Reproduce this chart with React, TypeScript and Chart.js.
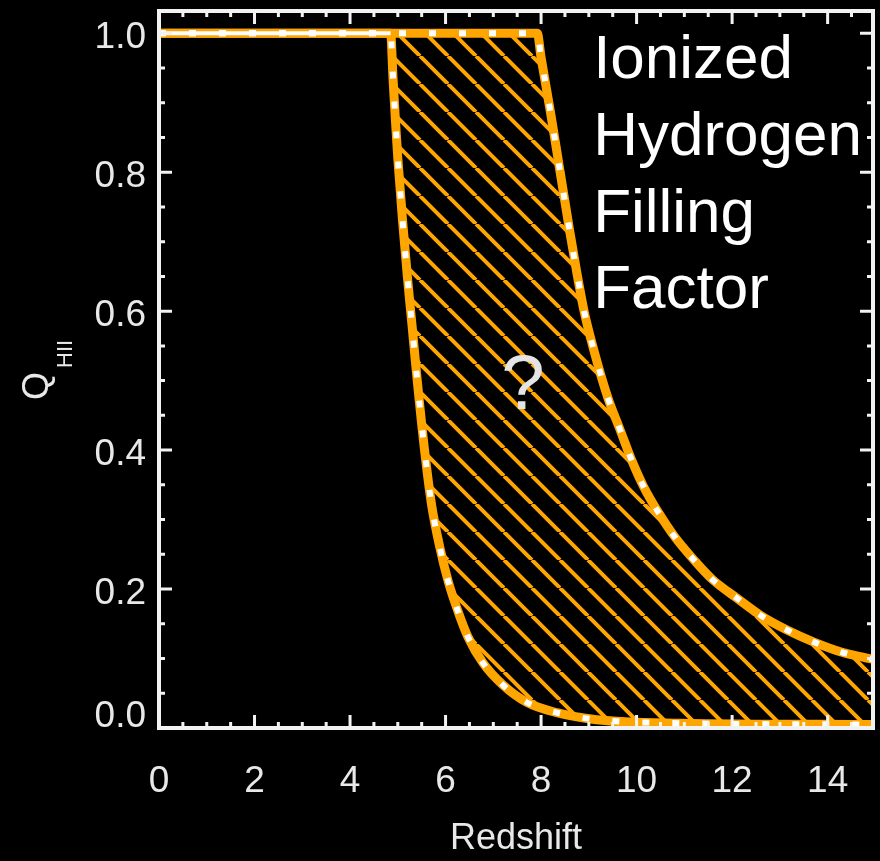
import React, { useEffect, useRef } from 'react';
import { Chart, registerables } from 'chart.js';

Chart.register(...registerables);

// ---- data ----
const redshiftUpper = [0, 7.92, 8.0, 8.2, 8.4, 8.6, 8.75, 8.9, 9.1, 9.4, 9.65, 9.9, 10.15, 10.45, 10.8, 11.2, 11.6, 12.1, 12.6, 13.15, 13.7, 14.3, 14.8, 15];
const fillingUpper = [1, 1, 0.965, 0.885, 0.8, 0.715, 0.655, 0.6, 0.545, 0.475, 0.43, 0.385, 0.347, 0.311, 0.275, 0.242, 0.213, 0.187, 0.162, 0.141, 0.124, 0.109, 0.101, 0.098];

const redshiftLower = [0, 4.85, 4.9, 4.95, 5.0, 5.1, 5.2, 5.3, 5.4, 5.56, 5.71, 5.88, 6.06, 6.25, 6.47, 6.78, 7.2, 7.7, 8.33, 9.16, 10.9, 15];
const fillingLower = [1, 1, 0.935, 0.875, 0.82, 0.73, 0.65, 0.578, 0.505, 0.4, 0.32, 0.26, 0.21, 0.17, 0.131, 0.094, 0.062, 0.037, 0.022, 0.012, 0.007, 0.005];

const plateauRedshift = [0, 4.85];
const plateauFilling = [1, 1];

const xMin = 0;
const xMax = 14.95;
const xStep = 2;
const xMinorStep = 0.5;
const yMin = 0;
const yMax = 1.032;
const yStep = 0.2;
const yMinorStep = 0.05;

const xTitle = 'Redshift';
const yTitleMain = 'Q';
const yTitleSub = 'HII';
const noteLines = ['Ionized', 'Hydrogen', 'Filling', 'Factor'];
const noteX = 9.09;
const noteY = [0.935, 0.825, 0.714, 0.605];
const questionText = '?';
const questionX = 7.62;
const questionY = 0.49;

const ORANGE = '#FFA500';
const FONT = "'Liberation Sans', Arial, Helvetica, sans-serif";

const toPoints = (xs: number[], ys: number[]) => xs.map((x, i) => ({ x, y: ys[i] }));

function makeHatch(): CanvasPattern | string {
  const s = 28;
  const c = document.createElement('canvas');
  c.width = s;
  c.height = s;
  const g = c.getContext('2d');
  if (!g) return ORANGE;
  g.strokeStyle = ORANGE;
  g.lineWidth = 4;
  g.beginPath();
  g.moveTo(0, 0); g.lineTo(s, s);
  g.moveTo(-s, 0); g.lineTo(0, s);
  g.moveTo(s, 0); g.lineTo(2 * s, s);
  g.stroke();
  const p = g.createPattern(c, 'repeat');
  return p || ORANGE;
}

const bgPlugin = {
  id: 'bg',
  beforeDraw(chart: any) {
    const ctx = chart.ctx;
    ctx.save();
    ctx.fillStyle = '#000';
    ctx.fillRect(0, 0, chart.width, chart.height);
    ctx.restore();
  },
};

const framePlugin = {
  id: 'frame',
  afterDatasetsDraw(chart: any) {
    const ctx = chart.ctx;
    const xs = chart.scales.x;
    const ys = chart.scales.y;
    const { left, right, top, bottom } = chart.chartArea;
    ctx.save();
    ctx.strokeStyle = '#f2f2f2';
    ctx.lineWidth = 3;
    ctx.beginPath();
    const nx = Math.round((xMax - xMin) / xMinorStep);
    for (let i = 0; i <= nx; i++) {
      const v = xMin + i * xMinorStep;
      const px = xs.getPixelForValue(v);
      if (px <= left + 1 || px >= right - 1) continue;
      const major = Math.abs(v / xStep - Math.round(v / xStep)) < 1e-6;
      const len = major ? 13 : 6;
      ctx.moveTo(px, bottom); ctx.lineTo(px, bottom - len);
      ctx.moveTo(px, top); ctx.lineTo(px, top + len);
    }
    const ny = Math.round((yMax - yMin) / yMinorStep);
    for (let i = 0; i <= ny; i++) {
      const v = yMin + i * yMinorStep;
      const py = ys.getPixelForValue(v);
      if (py >= bottom - 1 || py <= top + 1) continue;
      const major = Math.abs(v / yStep - Math.round(v / yStep)) < 1e-6;
      const len = major ? 13 : 6;
      ctx.moveTo(left, py); ctx.lineTo(left + len, py);
      ctx.moveTo(right, py); ctx.lineTo(right - len, py);
    }
    ctx.stroke();
    ctx.lineWidth = 4;
    ctx.strokeRect(left, top, right - left, bottom - top);
    ctx.restore();
  },
};

const textPlugin = {
  id: 'texts',
  afterDraw(chart: any) {
    const ctx = chart.ctx;
    const xs = chart.scales.x;
    const ys = chart.scales.y;
    ctx.save();
    ctx.fillStyle = '#ffffff';
    ctx.font = `62px ${FONT}`;
    ctx.textAlign = 'left';
    ctx.textBaseline = 'alphabetic';
    noteLines.forEach((t, i) => {
      ctx.fillText(t, xs.getPixelForValue(noteX), ys.getPixelForValue(noteY[i]));
    });
    ctx.fillStyle = '#e4e4e4';
    ctx.font = `78px ${FONT}`;
    ctx.textAlign = 'center';
    ctx.textBaseline = 'middle';
    ctx.fillText(questionText, xs.getPixelForValue(questionX), ys.getPixelForValue(questionY));
    ctx.fillStyle = '#e8e8e8';
    ctx.translate(48, 400);
    ctx.rotate(-Math.PI / 2);
    ctx.textAlign = 'left';
    ctx.textBaseline = 'alphabetic';
    ctx.font = `36px ${FONT}`;
    ctx.fillText(yTitleMain, 0, 0);
    ctx.font = `22px ${FONT}`;
    ctx.fillText(yTitleSub, 32, 24);
    ctx.restore();
  },
};

const zeroPad = (s: any) => {
  s.paddingTop = 0;
  s.paddingBottom = 0;
  s.paddingLeft = 0;
  s.paddingRight = 0;
};

export default function App() {
  const ref = useRef<HTMLCanvasElement | null>(null);

  useEffect(() => {
    if (!ref.current) return;
    const hatch = makeHatch();
    const upper = toPoints(redshiftUpper, fillingUpper);
    const lower = toPoints(redshiftLower, fillingLower);
    const plateau = toPoints(plateauRedshift, plateauFilling);

    const lineBase = { pointRadius: 0, cubicInterpolationMode: 'monotone' };

    const chart = new Chart(ref.current, {
      type: 'line',
      data: {
        datasets: [
          { ...lineBase, label: 'upper', data: upper, borderColor: ORANGE, borderWidth: 9, fill: false, order: 1 },
          { ...lineBase, label: 'lower', data: lower, borderColor: ORANGE, borderWidth: 9, backgroundColor: hatch as any, fill: '-1', order: 1 },
          { ...lineBase, label: 'upper-dots', data: upper, borderColor: '#ffffff', borderWidth: 6, borderDash: [7, 23], fill: false, order: 0 },
          { ...lineBase, label: 'lower-dots', data: lower, borderColor: '#ffffff', borderWidth: 6, borderDash: [7, 23], fill: false, order: 0 },
          { label: 'plateau', data: plateau, borderColor: '#ffffff', borderWidth: 4, pointRadius: 0, fill: false, order: 0 },
        ],
      } as any,
      options: {
        animation: false,
        responsive: false,
        maintainAspectRatio: false,
        events: [],
        layout: { autoPadding: false, padding: { top: 11, right: 7, left: 0, bottom: 0 } },
        plugins: {
          legend: { display: false },
          tooltip: { enabled: false },
          title: { display: false },
        },
        scales: {
          x: {
            type: 'linear',
            min: xMin,
            max: xMax,
            grid: { display: false, drawTicks: false },
            border: { display: false },
            ticks: {
              stepSize: xStep,
              includeBounds: false,
              maxRotation: 0,
              autoSkip: false,
              color: '#e8e8e8',
              font: { family: FONT, size: 37 },
              padding: 32,
              callback: (v: any) => String(v),
            },
            title: {
              display: true,
              text: xTitle,
              color: '#e8e8e8',
              font: { family: FONT, size: 36 },
              padding: { top: 0, bottom: 0 },
            },
            afterFit: (s: any) => { s.height = 133; zeroPad(s); },
          },
          y: {
            type: 'linear',
            min: yMin,
            max: yMax,
            grid: { display: false, drawTicks: false },
            border: { display: false },
            ticks: {
              stepSize: yStep,
              includeBounds: false,
              autoSkip: false,
              color: '#e8e8e8',
              font: { family: FONT, size: 37, lineHeight: 0.9 },
              padding: 13,
              labelOffset: 5,
              callback: (v: any) => (Math.abs(v) < 1e-9 ? ['0.0', ''] : Number(v).toFixed(1)),
            },
            afterFit: (s: any) => { s.width = 159; zeroPad(s); },
          },
        },
      } as any,
      plugins: [bgPlugin, framePlugin, textPlugin],
    });
    return () => chart.destroy();
  }, []);

  return (
    <div style={{ position: 'fixed', left: 0, top: 0, width: 880, height: 861, background: '#000', overflow: 'hidden' }}>
      <canvas ref={ref} width={880} height={861} style={{ display: 'block', width: 880, height: 861 }} />
    </div>
  );
}
